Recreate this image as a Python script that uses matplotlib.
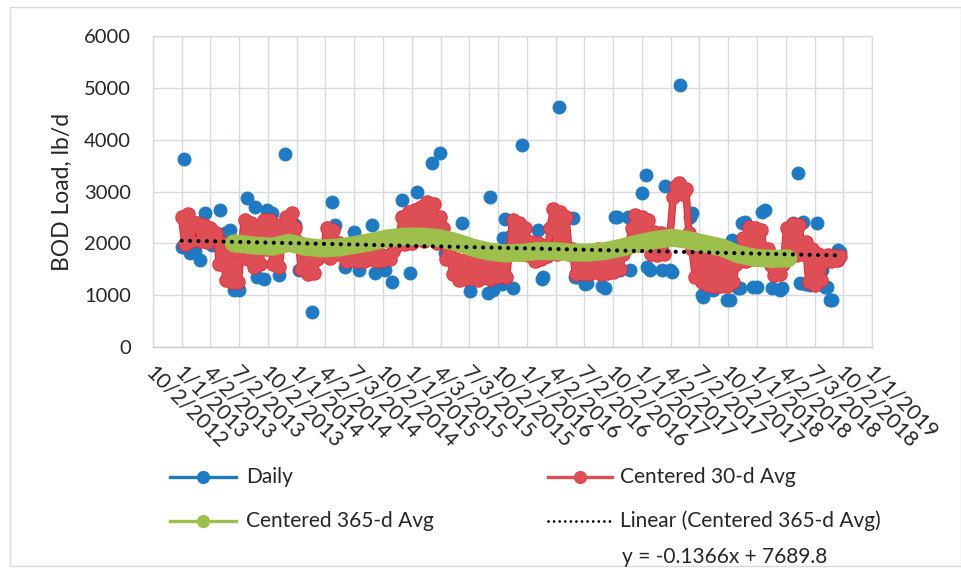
import numpy as np
import pandas as pd
import matplotlib
matplotlib.use("Agg")
import matplotlib.pyplot as plt
from matplotlib.lines import Line2D
from matplotlib.patches import Rectangle
from matplotlib.transforms import ScaledTranslation

# ---------------- data (x values are Excel serial dates) ----------------
daily_serial = [
    41276, 41282, 41292, 41301, 41317, 41333, 41349, 41371, 41397, 41413,
    41428, 41430, 41441, 41457, 41482, 41508, 41514, 41536, 41546, 41562,
    41584, 41603, 41635, 41647, 41679, 41689, 41752, 41762, 41794, 41822,
    41838, 41879, 41889, 41921, 41943, 41975, 42000, 42016, 42022, 42070,
    42095, 42111, 42155, 42165, 42190, 42247, 42254, 42263, 42292, 42296,
    42301, 42314, 42327, 42355, 42406, 42419, 42422, 42460, 42473, 42517,
    42524, 42530, 42555, 42562, 42609, 42619, 42651, 42657, 42666, 42692,
    42698, 42736, 42749, 42752, 42762, 42800, 42809, 42825, 42832, 42857,
    42889, 42895, 42927, 42930, 42962, 43006, 43016, 43022, 43041, 43047,
    43054, 43063, 43089, 43101, 43117, 43127, 43149, 43174, 43181, 43216,
    43232, 43238, 43248, 43254, 43270, 43292, 43308, 43317, 43324, 43333,
    43340, 43359, 43365, 43359,
]
daily_bod = [
    1935, 3630, 2150, 1806, 1850, 1677, 2580, 1970, 2645, 2200,
    2260, 1290, 1100, 1100, 2870, 2710, 1355, 1320, 2645, 2580,
    1390, 3725, 2355, 1485, 1420, 675, 2805, 2355, 1550, 2225,
    1485, 2355, 1420, 1485, 1250, 2840, 1420, 2645, 2990, 3550,
    3745, 1806, 2000, 2390, 1085, 1040, 2900, 1100, 1225, 2100,
    2470, 2130, 1140, 3900, 2260, 1320, 1350, 2355, 4635, 2480,
    1355, 1350, 1225, 1235, 1180, 1130, 2515, 2510, 1485, 2515,
    1485, 2970, 3320, 1550, 1485, 1485, 3110, 1485, 1450, 5055,
    2510, 2580, 1000, 965, 1100, 905, 905, 2065, 1130, 1140,
    2390, 2410, 1160, 1160, 2600, 2645, 1130, 1100, 1130, 2390,
    3355, 1235, 2420, 1225, 1200, 2390, 1485, 1160, 1160, 905,
    905, 1870, 1835, 1680,
]

# centered 30-day average, one value every 10 days starting 1/1/2013
avg30_first_serial = 41275
avg30_step_days = 10
avg30_bod = [
    2500, 1980, 2560, 2050, 2400,
    2390, 2050, 2350, 2030, 2300, 2100,
    2200, 1600, 2000, 1300, 1800, 1260, 1600, 1250,
    2000, 2450, 1700, 2400, 1550, 2300, 1600, 2450, 1900, 2450, 1600, 2350,
    1550, 2200, 2500, 2000, 2580, 2300,
    2030, 1500, 1900, 1400, 1800, 1420, 1700, 1900,
    1800, 2290, 1720, 2250, 1800, 2000,
    1830, 1650, 1800, 1680, 1820, 1650, 1780, 1660, 1800, 1700, 1830, 1650,
    1800, 1680, 1760, 1700, 1850, 1950,
    2100, 2500, 1980, 2600, 2000, 2650, 2100, 2700, 2050, 2800, 2150, 2750,
    2000, 2500,
    2300, 1700, 1900, 1400,
    1700, 1300, 1650, 1320, 1700, 1350, 1650, 1300, 1700, 1350, 1650, 1320,
    1700, 1350, 1650, 1500,
    1350, 1800,
    2450, 1800, 2400, 1800, 2300, 1780,
    2030, 1650, 2000, 1700, 1950, 1750,
    2300, 2670, 1800, 2600, 1850, 2500, 1800,
    1900, 1400, 1850, 1420, 1800, 1400, 1850, 1450, 1900, 1400, 1800, 1420,
    1850, 1450, 1900, 1500, 1800, 1900,
    2000, 2300,
    2545, 1970, 2500, 2000, 2450,
    1800, 2220, 1780, 2200, 1800, 2100,
    2150, 2900, 3100, 3160, 2950, 3050, 2200,
    1900, 1350, 1850, 1250, 1800, 1200, 1700, 1170, 1650, 1180, 1600, 1170,
    1700, 1250, 1600,
    1700, 2100, 1650, 2320, 1700, 2300, 1750, 2250, 1700, 1900,
    1580, 1390, 1550, 1400, 1600,
    2300, 1800, 2380, 1780, 2350, 1800,
    2030, 1250, 1900, 1200, 1800, 1300,
    1650, 1770, 1650, 1750, 1680, 1750,
]

avg365_serial = [
    41441, 41508, 41562, 41616, 41667, 41720, 41774, 41825, 41879, 41933,
    41984, 42038, 42092, 42143, 42197, 42251, 42301, 42355, 42406, 42460,
    42514, 42565, 42619, 42673, 42724, 42778, 42832, 42882, 42936, 42990,
    43041, 43095, 43149, 43200,
]
avg365_bod = [
    2000, 1955, 1935, 2010, 1935, 1900, 1920, 1970, 2030, 2100,
    2130, 2130, 2100, 2030, 1920, 1840, 1805, 1820, 1850, 1850,
    1820, 1820, 1850, 1920, 2000, 2065, 2110, 2065, 1990, 1920,
    1790, 1720, 1700, 1710,
]

# linear trendline of the 365-day series (Excel serial x)
trend_slope = -0.1366
trend_intercept = 7689.8
trend_equation = "y = -0.1366x + 7689.8"

x_tick_labels = [
    "10/2/2012", "1/1/2013", "4/2/2013", "7/2/2013", "10/2/2013",
    "1/1/2014", "4/2/2014", "7/3/2014", "10/2/2014", "1/1/2015",
    "4/3/2015", "7/3/2015", "10/2/2015", "1/1/2016", "4/2/2016",
    "7/2/2016", "10/2/2016", "1/1/2017", "4/2/2017", "7/2/2017",
    "10/2/2017", "1/1/2018", "4/2/2018", "7/3/2018", "10/2/2018",
    "1/1/2019",
]
y_ticks = [0, 1000, 2000, 3000, 4000, 5000, 6000]

series_names = ["Daily", "Centered 30-d Avg", "Centered 365-d Avg",
                "Linear (Centered 365-d Avg)"]
y_label = "BOD Load, lb/d"

# ---------------- style ----------------
BLUE = "#1F7AC4"
RED_FILL = "#DE4E55"
RED_EDGE = "#F2222E"
GREEN = "#9DBF4C"
GRID = "#D6DAE0"
TEXT = "#262626"

plt.rcParams["font.family"] = ["Lato", "DejaVu Sans"]

W, H = 962, 583
fig = plt.figure(figsize=(W / 100, H / 100), dpi=100)
fig.patch.set_facecolor("white")


def fx(px):
    return px / W


def fy(py):
    return 1 - py / H


ax = fig.add_axes([fx(153), fy(347), fx(872) - fx(153), fy(36) - fy(347)])

epoch = pd.Timestamp("1899-12-30")
tick_serials = [(pd.to_datetime(s, format="%m/%d/%Y") - epoch).days
                for s in x_tick_labels]

avg30_serial = avg30_first_serial + avg30_step_days * np.arange(len(avg30_bod))

# daily samples
ax.plot(daily_serial, daily_bod, linestyle="none", marker="o", ms=9.4,
        mfc=BLUE, mec=BLUE, mew=0.6, zorder=3)

# 30-day average: bright outline pass, then the fill pass on top
ax.plot(avg30_serial, avg30_bod, color=RED_EDGE, lw=5.4, marker="o", ms=10.4,
        mfc=RED_EDGE, mec=RED_EDGE, mew=0, solid_joinstyle="round",
        solid_capstyle="round", zorder=4)
ax.plot(avg30_serial, avg30_bod, color=RED_FILL, lw=4.0, marker="o", ms=9.2,
        mfc=RED_FILL, mec=RED_FILL, mew=0, solid_joinstyle="round",
        solid_capstyle="round", zorder=4.5)

# 365-day average
ax.plot(avg365_serial, avg365_bod, color=GREEN, lw=13,
        solid_capstyle="round", solid_joinstyle="round", zorder=5)

# trendline
trend_x = np.array([avg30_serial[0], avg30_serial[-1]])
ax.plot(trend_x, trend_slope * trend_x + trend_intercept, color="black",
        lw=3.0, linestyle=(0, (0.01, 2.0)), dash_capstyle="round", zorder=6)

ax.set_xlim(tick_serials[0], tick_serials[-1])
ax.set_ylim(y_ticks[0], y_ticks[-1])
ax.set_xticks(tick_serials)
ax.set_yticks(y_ticks)
ax.set_xticklabels(x_tick_labels, rotation=-45, ha="left", va="center",
                   rotation_mode="anchor", fontsize=15.5, color=TEXT)
ax.set_yticklabels([str(v) for v in y_ticks], fontsize=14.5, color=TEXT)
ax.tick_params(axis="both", length=0)
ax.tick_params(axis="x", pad=16)
ax.tick_params(axis="y", pad=16)
for lbl in ax.get_xticklabels():
    lbl.set_transform(lbl.get_transform()
                      + ScaledTranslation(-3 / 72, 0, fig.dpi_scale_trans))

ax.grid(True, color=GRID, lw=1.0, zorder=0)
ax.set_axisbelow(True)
for sp in ax.spines.values():
    sp.set_color(GRID)
    sp.set_linewidth(1.0)
ax.spines["bottom"].set_color("#C8CCD2")

ax.set_ylabel(y_label, fontsize=16.5, color=TEXT, labelpad=8)

# ---------------- legend ----------------
leg_font = 15
row1, row2, row3 = 477, 521, 557
col1_line, col1_text = (170, 236), 246
col2_line, col2_text = (548, 612), 620


def handle(x0x1, y, **kw):
    xs = [fx(x0x1[0]), fx(x0x1[1])]
    ln = Line2D(xs, [fy(y), fy(y)], transform=fig.transFigure, **kw)
    fig.add_artist(ln)
    return (xs[0] + xs[1]) / 2


def handle_marker(xm, y, color):
    fig.add_artist(Line2D([xm], [fy(y)], transform=fig.transFigure,
                          marker="o", ms=8.5, mfc=color, mec=color))


m = handle(col1_line, row1, color=BLUE, lw=2.4)
handle_marker(m, row1, BLUE)
fig.text(fx(col1_text), fy(row1), series_names[0], fontsize=leg_font,
         va="center", ha="left", color=TEXT)

m = handle(col2_line, row1, color=RED_FILL, lw=2.4)
handle_marker(m, row1, RED_FILL)
fig.text(fx(col2_text), fy(row1), series_names[1], fontsize=leg_font,
         va="center", ha="left", color=TEXT)

m = handle(col1_line, row2, color=GREEN, lw=2.4)
handle_marker(m, row2, GREEN)
fig.text(fx(col1_text), fy(row2), series_names[2], fontsize=leg_font,
         va="center", ha="left", color=TEXT)

handle(col2_line, row2, color="black", lw=2.0, linestyle=(0, (0.01, 2.0)),
       dash_capstyle="round")
fig.text(fx(col2_text), fy(row2), series_names[3], fontsize=leg_font,
         va="center", ha="left", color=TEXT)

fig.text(fx(622), fy(row3), trend_equation, fontsize=leg_font,
         va="center", ha="left", color=TEXT)

# chart frame
fig.add_artist(Rectangle((fx(10), fy(566)), fx(961) - fx(10), fy(7) - fy(566),
                         transform=fig.transFigure, fill=False,
                         edgecolor="#D9D9D9", lw=1.0))

fig.savefig("out.png", dpi=100)
